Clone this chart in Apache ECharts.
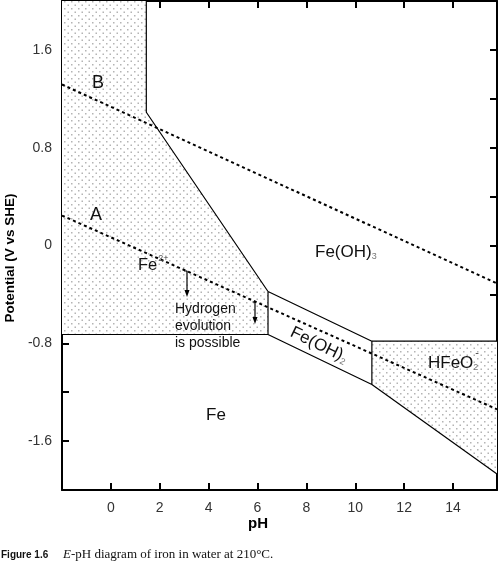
<!DOCTYPE html>
<html><head><meta charset="utf-8">
<script src="https://cdn.jsdelivr.net/npm/echarts@6/dist/echarts.min.js"></script>
<style>html,body{margin:0;padding:0;background:#fff}#c{width:500px;height:562px}</style>
</head><body><div id="c"></div>
<script>
// ---- data (pH, potential V vs SHE) ----
const phTickLabels = [0, 2, 4, 6, 8, 10, 12, 14];
const potentialTickLabels = [-1.6, -0.8, 0, 0.8, 1.6];

const fe2Region = [[-2, 2], [1.45, 2], [1.45, 1.09], [6.43, -0.376], [6.43, -0.728], [-2, -0.728]];
const hfeo2Region = [[10.68, -0.783], [15.8, -0.783], [15.8, -1.87], [10.68, -1.137]];

const fe2Fe3Boundary = [[1.45, 2], [1.45, 1.09], [6.43, -0.376]];
const fe2FeBoundary = [[-2, -0.728], [6.43, -0.728]];
const feoh2Boundary = [[6.43, -0.376], [10.68, -0.783], [10.68, -1.137], [6.43, -0.728], [6.43, -0.376]];
const hfeo2TopBoundary = [[10.68, -0.783], [15.8, -0.783]];
const hfeo2BottomBoundary = [[10.68, -1.137], [15.8, -1.87]];

const waterLineA = [[-2, 0.245], [15.8, -1.34]];
const waterLineB = [[-2, 1.317], [15.8, -0.31]];

// ---- dotted fill pattern ----
const pc = document.createElement('canvas');
pc.width = 7; pc.height = 7;
const pctx = pc.getContext('2d');
pctx.fillStyle = '#ffffff'; pctx.fillRect(0, 0, 7, 7);
pctx.fillStyle = '#b4b4b4';
pctx.fillRect(1, 1, 1.5, 1.5);
pctx.fillRect(4.5, 4.5, 1.5, 1.5);
const dotPattern = { image: pc, repeat: 'repeat' };

function regionSeries(region) {
  return {
    type: 'custom', coordinateSystem: 'cartesian2d', silent: true, z: 1,
    data: [[region[0][0], region[0][1]]],
    renderItem: function (params, api) {
      return {
        type: 'polygon',
        shape: { points: region.map(p => api.coord(p)) },
        style: { fill: dotPattern, stroke: null }
      };
    }
  };
}
function solid(data) {
  return { type: 'line', data: data, showSymbol: false, silent: true, z: 3,
    lineStyle: { color: '#000', width: 1.2 } };
}
function dotted(data) {
  return { type: 'line', data: data, showSymbol: false, silent: true, z: 3,
    lineStyle: { color: '#000', width: 2, type: [3, 3] } };
}

const FONT = 'Liberation Sans, Arial, sans-serif';
const near = (v, arr) => arr.some(t => Math.abs(t - v) < 1e-6);
const axisLineStyle = { color: '#000', width: 2 };
const tickStyle = { inside: true, length: 7, lineStyle: { color: '#000', width: 2 } };

const chart = echarts.init(document.getElementById('c'), null, { renderer: 'canvas' });
chart.setOption({
  animation: false,
  backgroundColor: '#fff',
  grid: { left: 62, top: 1, width: 436, height: 489 },
  xAxis: [
    { type: 'value', position: 'bottom', min: -2, max: 15.8, interval: 2,
      axisLine: { onZero: false, lineStyle: axisLineStyle }, axisTick: tickStyle, splitLine: { show: false },
      axisLabel: { color: '#333', fontSize: 14, fontFamily: FONT, margin: 11,
        formatter: v => near(v, phTickLabels) ? String(v) : '' } },
    { type: 'value', position: 'top', min: -2, max: 15.8, interval: 2,
      axisLine: { onZero: false, lineStyle: axisLineStyle }, axisTick: tickStyle, splitLine: { show: false },
      axisLabel: { show: false } }
  ],
  yAxis: [
    { type: 'value', position: 'left', min: -2, max: 2, interval: 0.4,
      axisLine: { onZero: false, lineStyle: axisLineStyle }, axisTick: tickStyle, splitLine: { show: false },
      axisLabel: { color: '#333', fontSize: 14, fontFamily: FONT, margin: 10,
        formatter: v => near(v, potentialTickLabels) ? String(Math.round(v * 10) / 10) : '' } },
    { type: 'value', position: 'right', min: -2, max: 2, interval: 0.4,
      axisLine: { onZero: false, lineStyle: axisLineStyle }, axisTick: tickStyle, splitLine: { show: false },
      axisLabel: { show: false } }
  ],
  series: [
    regionSeries(fe2Region),
    regionSeries(hfeo2Region),
    solid(fe2Fe3Boundary),
    solid(fe2FeBoundary),
    solid(feoh2Boundary),
    solid(hfeo2TopBoundary),
    solid(hfeo2BottomBoundary),
    dotted(waterLineA),
    dotted(waterLineB)
  ],
  graphic: [
    { type: 'text', x: 10, y: 258, rotation: Math.PI / 2, z: 10,
      style: { text: 'Potential (V vs SHE)', font: 'bold 13.5px ' + FONT, fill: '#000', align: 'center', verticalAlign: 'middle' } },
    { type: 'text', x: 258, y: 524, z: 10,
      style: { text: 'pH', font: 'bold 15px ' + FONT, fill: '#000', align: 'center', verticalAlign: 'middle' } },
    { type: 'text', x: 98, y: 83, z: 10,
      style: { text: 'B', font: '18px ' + FONT, fill: '#111', align: 'center', verticalAlign: 'middle' } },
    { type: 'text', x: 96, y: 215, z: 10,
      style: { text: 'A', font: '18px ' + FONT, fill: '#111', align: 'center', verticalAlign: 'middle' } },
    { type: 'text', x: 138, y: 265, z: 10,
      style: { text: '{a|Fe}{s|2+}', align: 'left', verticalAlign: 'middle',
        rich: { a: { font: '16.5px ' + FONT, fill: '#111' },
                s: { font: '9px ' + FONT, fill: '#555', padding: [0, 0, 13, 1] } } } },
    { type: 'text', x: 315, y: 252, z: 10,
      style: { text: '{a|Fe(OH)}{s|3}', align: 'left', verticalAlign: 'middle',
        rich: { a: { font: '17px ' + FONT, fill: '#111' },
                s: { font: '9px ' + FONT, fill: '#777', padding: [10, 0, 0, 0] } } } },
    { type: 'text', x: 319, y: 345, rotation: -0.45, z: 10,
      style: { text: '{a|Fe(OH)}{s|2}', align: 'center', verticalAlign: 'middle',
        rich: { a: { font: '17px ' + FONT, fill: '#111' },
                s: { font: '9px ' + FONT, fill: '#777', padding: [10, 0, 0, 0] } } } },
    { type: 'text', x: 428, y: 363, z: 10,
      style: { text: '{a|HFeO}{s|2}', align: 'left', verticalAlign: 'middle',
        rich: { a: { font: '17px ' + FONT, fill: '#111' },
                s: { font: '9px ' + FONT, fill: '#777', padding: [10, 0, 0, 0] } } } },
    { type: 'text', x: 477, y: 353, z: 10,
      style: { text: '-', font: '11px ' + FONT, fill: '#444', align: 'center', verticalAlign: 'middle' } },
    { type: 'text', x: 175, y: 301, z: 10,
      style: { text: 'Hydrogen\nevolution\nis possible', font: '14px ' + FONT, fill: '#111', lineHeight: 17, align: 'left', verticalAlign: 'top' } },
    { type: 'text', x: 216, y: 415, z: 10,
      style: { text: 'Fe', font: '17px ' + FONT, fill: '#111', align: 'center', verticalAlign: 'middle' } },
    // arrows
    { type: 'line', z: 10, shape: { x1: 187, y1: 271, x2: 187, y2: 292 }, style: { stroke: '#000', lineWidth: 1.2 } },
    { type: 'line', z: 10, shape: { x1: 184.5, y1: 271, x2: 187, y2: 271 }, style: { stroke: '#000', lineWidth: 1 } },
    { type: 'polygon', z: 10, shape: { points: [[184.5, 290], [189.5, 290], [187, 297]] }, style: { fill: '#000' } },
    { type: 'line', z: 10, shape: { x1: 255, y1: 302, x2: 255, y2: 319 }, style: { stroke: '#000', lineWidth: 1.2 } },
    { type: 'line', z: 10, shape: { x1: 252.5, y1: 302, x2: 255, y2: 302 }, style: { stroke: '#000', lineWidth: 1 } },
    { type: 'polygon', z: 10, shape: { points: [[252.5, 317], [257.5, 317], [255, 324]] }, style: { fill: '#000' } },
    // caption
    { type: 'text', x: 1, y: 555, z: 10,
      style: { text: 'Figure 1.6', font: 'bold 10px ' + FONT, fill: '#111', align: 'left', verticalAlign: 'middle' } },
    { type: 'text', x: 63, y: 555, z: 10,
      style: { text: '{i|E}{r|-pH diagram of iron in water at 210°C.}', align: 'left', verticalAlign: 'middle',
        rich: { i: { font: 'italic 13px Liberation Serif, serif', fill: '#111' },
                r: { font: '13px Liberation Serif, serif', fill: '#111' } } } }
  ]
});
</script>
</body></html>
